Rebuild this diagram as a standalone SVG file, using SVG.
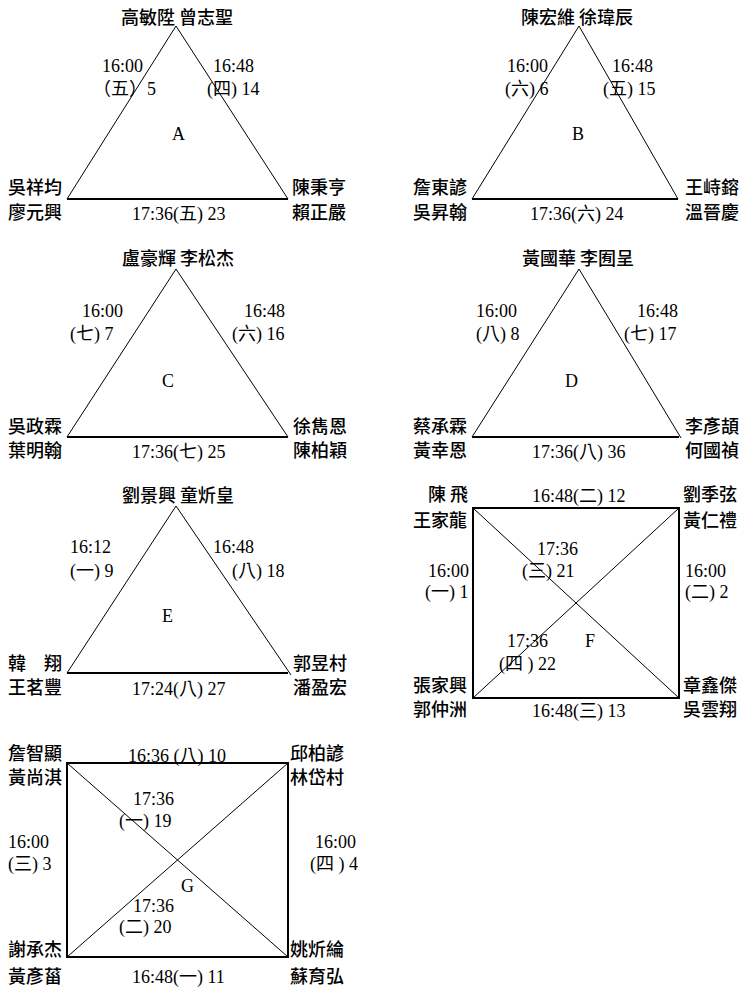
<svg xmlns="http://www.w3.org/2000/svg" width="741" height="990" viewBox="0 0 741 990">
<style>
text { font-family: "Liberation Serif", "Noto Sans CJK TC", serif; font-size: 18px; fill: #000; }
.n { font-family: "Noto Sans CJK TC", "Noto Sans CJK SC", sans-serif; font-weight: 500; font-size: 18px; }
.m { text-anchor: middle; }
.e { text-anchor: end; }
.side { fill: none; stroke: #000; stroke-width: 1; }
.base { fill: none; stroke: #000; stroke-width: 2; }
</style>
<rect width="741" height="990" fill="#fff"/>
<g id="connectors">
  <polyline class="side" points="67,199 176,26 288,199"/>
  <line class="base" x1="67" y1="199" x2="288" y2="199"/>
  <polyline class="side" points="472,199 579,26 678,199"/>
  <line class="base" x1="472" y1="199" x2="678" y2="199"/>
  <polyline class="side" points="67,437 176,269 288,437"/>
  <line class="base" x1="67" y1="437" x2="288" y2="437"/>
  <polyline class="side" points="472,437 579,269 681,438"/>
  <line class="base" x1="472" y1="437" x2="679" y2="437"/>
  <polyline class="side" points="67,673 176,506 291,675"/>
  <line class="base" x1="67" y1="673" x2="288" y2="673"/>
  <rect class="base" x="473" y="508" width="206" height="190"/>
  <line class="side" x1="473" y1="508" x2="679" y2="698"/>
  <line class="side" x1="679" y1="508" x2="473" y2="698"/>
  <rect class="base" x="67" y="763" width="221" height="194"/>
  <line class="side" x1="67" y1="763" x2="288" y2="957"/>
  <line class="side" x1="288" y1="763" x2="67" y2="957"/>
</g>
<g id="poolA">
  <text class="n m" x="177" y="24">高敏陞 曾志聖</text>
  <text x="102" y="72">16:00</text>
  <text x="93" y="95">（五）5</text>
  <text x="213" y="72">16:48</text>
  <text x="207" y="95">(四) 14</text>
  <text x="172" y="140">A</text>
  <text class="n" x="8" y="194">吳祥均</text>
  <text class="n" x="8" y="219">廖元興</text>
  <text class="n" x="292" y="194">陳秉亨</text>
  <text class="n" x="292" y="219">賴正嚴</text>
  <text x="132" y="220">17:36(五) 23</text>
</g>
<g id="poolB">
  <text class="n m" x="577" y="24">陳宏維 徐瑋辰</text>
  <text x="507" y="72">16:00</text>
  <text x="505" y="95">(六) 6</text>
  <text x="612" y="72">16:48</text>
  <text x="603" y="95">(五) 15</text>
  <text x="572" y="140">B</text>
  <text class="n" x="413" y="194">詹東諺</text>
  <text class="n" x="413" y="219">吳昇翰</text>
  <text class="n" x="685" y="194">王峙鎔</text>
  <text class="n" x="685" y="219">溫晉慶</text>
  <text x="530" y="220">17:36(六) 24</text>
</g>
<g id="poolC">
  <text class="n m" x="178" y="265">盧豪輝 李松杰</text>
  <text x="82" y="317">16:00</text>
  <text x="70" y="340">(七) 7</text>
  <text x="244" y="317">16:48</text>
  <text x="232" y="340">(六) 16</text>
  <text x="162" y="387">C</text>
  <text class="n" x="8" y="433">吳政霖</text>
  <text class="n" x="8" y="457">葉明翰</text>
  <text class="n" x="293" y="433">徐雋恩</text>
  <text class="n" x="293" y="457">陳柏穎</text>
  <text x="132" y="458">17:36(七) 25</text>
</g>
<g id="poolD">
  <text class="n m" x="578" y="265">黃國華 李囿呈</text>
  <text x="476" y="317">16:00</text>
  <text x="476" y="340">(八) 8</text>
  <text x="637" y="317">16:48</text>
  <text x="624" y="340">(七) 17</text>
  <text x="565" y="387">D</text>
  <text class="n" x="413" y="433">蔡承霖</text>
  <text class="n" x="413" y="457">黃幸恩</text>
  <text class="n" x="685" y="433">李彥頡</text>
  <text class="n" x="685" y="457">何國禎</text>
  <text x="532" y="458">17:36(八) 36</text>
</g>
<g id="poolE">
  <text class="n m" x="178" y="502">劉景興 童炘皇</text>
  <text x="70" y="553">16:12</text>
  <text x="70" y="577">(一) 9</text>
  <text x="213" y="553">16:48</text>
  <text x="232" y="577">(八) 18</text>
  <text x="162" y="622">E</text>
  <text class="n" x="8" y="670">韓　翔</text>
  <text class="n" x="8" y="694">王茗豐</text>
  <text class="n" x="293" y="670">郭昱村</text>
  <text class="n" x="293" y="694">潘盈宏</text>
  <text x="132" y="695">17:24(八) 27</text>
</g>
<g id="poolF">
  <text class="n e" x="468" y="501">陳 飛</text>
  <text class="n" x="413" y="527">王家龍</text>
  <text x="532" y="502">16:48(二) 12</text>
  <text class="n" x="683" y="501">劉季弦</text>
  <text class="n" x="683" y="527">黃仁禮</text>
  <text x="537" y="555">17:36</text>
  <text x="522" y="577">(三) 21</text>
  <text x="428" y="577">16:00</text>
  <text x="425" y="598">(一) 1</text>
  <text x="685" y="577">16:00</text>
  <text x="685" y="598">(二) 2</text>
  <text x="507" y="647">17:36</text>
  <text x="585" y="647">F</text>
  <text x="499" y="670">(四 ) 22</text>
  <text class="n" x="413" y="692">張家興</text>
  <text class="n" x="683" y="692">章鑫傑</text>
  <text class="n" x="413" y="716">郭仲洲</text>
  <text x="532" y="717">16:48(三) 13</text>
  <text class="n" x="683" y="716">吳雲翔</text>
</g>
<g id="poolG">
  <text class="n" x="8" y="760">詹智顯</text>
  <text class="n" x="8" y="784">黃尚淇</text>
  <text x="128" y="762">16:36 (八) 10</text>
  <text class="n" x="290" y="760">邱柏諺</text>
  <text class="n" x="290" y="784">林岱村</text>
  <text x="133" y="805">17:36</text>
  <text x="119" y="827">(一) 19</text>
  <text x="8" y="848">16:00</text>
  <text x="8" y="870">(三) 3</text>
  <text x="315" y="848">16:00</text>
  <text x="310" y="870">(四 ) 4</text>
  <text x="181" y="892">G</text>
  <text x="133" y="912">17:36</text>
  <text x="119" y="933">(二) 20</text>
  <text class="n" x="8" y="956">謝承杰</text>
  <text class="n" x="290" y="956">姚炘綸</text>
  <text class="n" x="8" y="983">黃彥菑</text>
  <text x="132" y="983">16:48(一) 11</text>
  <text class="n" x="290" y="983">蘇育弘</text>
</g>
</svg>
